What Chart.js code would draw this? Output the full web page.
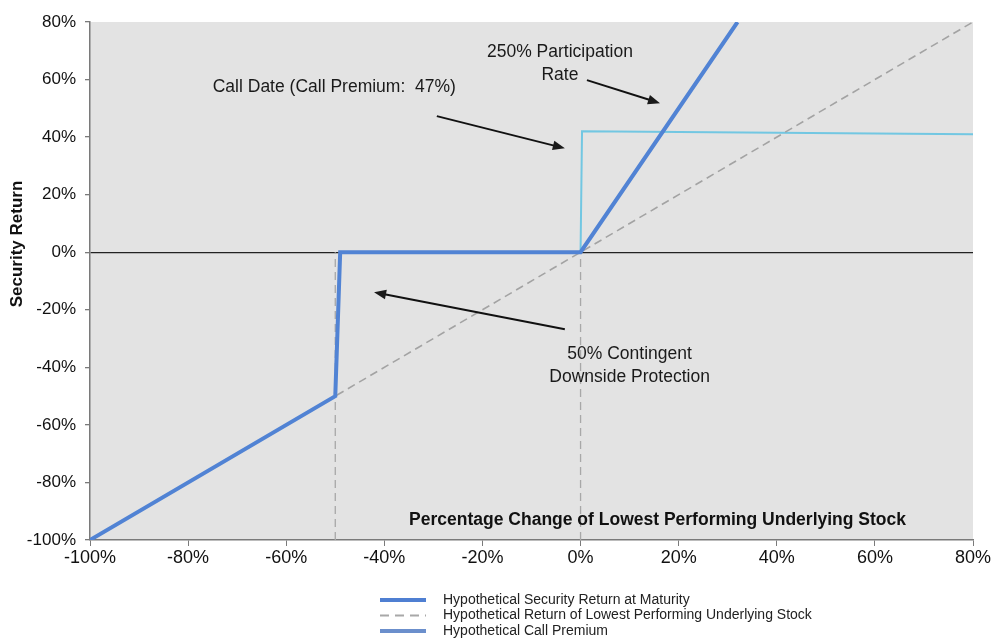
<!DOCTYPE html>
<html>
<head>
    <title>Security Return vs Lowest Performing Underlying Stock</title>
    <script src="https://cdn.jsdelivr.net/npm/chart.js"></script>
    <style>
        body { margin: 0; background: #fff; font-family: "Liberation Sans", Arial, sans-serif; }
        .chart-container { width: 993px; height: 639px; }
    </style>
</head>
<body>
    <div class="chart-container">
        <canvas id="myChart"></canvas>
    </div>

    <script>
        // values in % (x = change of lowest performing stock, y = security return)
        const securityX = [-100, -50, -49, 0, 32];
        const securityY = [-100, -50, 0, 0, 80];
        const stockX = [-100, 80];
        const stockY = [-100, 80];
        const premiumX = [0, 0.3, 80];
        const premiumY = [0, 42, 41];
        const guideX = [-50, 0];        // vertical dashed markers, from -100% up to 0%
        const seriesLabels = [
            'Hypothetical Security Return at Maturity',
            'Hypothetical Return of Lowest Performing Underlying Stock',
            'Hypothetical Call Premium'
        ];
        const xTicks = [-100, -80, -60, -40, -20, 0, 20, 40, 60, 80];
        const yTicks = [-100, -80, -60, -40, -20, 0, 20, 40, 60, 80];

        const toPoints = (xs, ys) => xs.map((x, i) => ({ x: x, y: ys[i] }));

        // text notes, placed in data units
        const notes = [
            { lines: ['250% Participation', 'Rate'], x: -4.2, y: 69.5, from: [1.3, 59.8], to: [16.2, 51.8] },
            { lines: ['Call Date (Call Premium:  47%)'], x: -50.2, y: 57.3, from: [-29.3, 47.3], to: [-3.2, 36.1] },
            { lines: ['50% Contingent', 'Downside Protection'], x: 10, y: -35.4, from: [-3.2, -26.8], to: [-42.1, -13.9] }
        ];

        const legendColors = ['#4f7fd2', '#a8a8a8', '#6b8fcc'];
        const FONT = '"Liberation Sans", Arial, sans-serif';

        const decorPlugin = {
            id: 'decor',
            beforeDraw(chart) {
                const a = chart.chartArea, ctx = chart.ctx;
                ctx.save();
                ctx.fillStyle = '#e3e3e3';
                ctx.fillRect(a.left, a.top, a.right - a.left, a.bottom - a.top);
                ctx.restore();
            },
            afterDatasetsDraw(chart) {
                const ctx = chart.ctx;
                const xs = chart.scales.x, ys = chart.scales.y;
                ctx.save();
                ctx.fillStyle = '#1a1a1a';
                ctx.strokeStyle = '#111';
                ctx.font = '17.5px ' + FONT;
                ctx.textAlign = 'center';
                ctx.textBaseline = 'middle';
                notes.forEach(n => {
                    const px = xs.getPixelForValue(n.x);
                    const py = ys.getPixelForValue(n.y);
                    n.lines.forEach((t, i) => ctx.fillText(t, px, py + i * 23));
                    const x1 = xs.getPixelForValue(n.from[0]), y1 = ys.getPixelForValue(n.from[1]);
                    const x2 = xs.getPixelForValue(n.to[0]), y2 = ys.getPixelForValue(n.to[1]);
                    const ang = Math.atan2(y2 - y1, x2 - x1);
                    ctx.lineWidth = 2;
                    ctx.beginPath();
                    ctx.moveTo(x1, y1);
                    ctx.lineTo(x2 - 8 * Math.cos(ang), y2 - 8 * Math.sin(ang));
                    ctx.stroke();
                    ctx.beginPath();
                    ctx.moveTo(x2, y2);
                    ctx.lineTo(x2 - 13 * Math.cos(ang - 0.38), y2 - 13 * Math.sin(ang - 0.38));
                    ctx.lineTo(x2 - 13 * Math.cos(ang + 0.38), y2 - 13 * Math.sin(ang + 0.38));
                    ctx.closePath();
                    ctx.fill();
                });

                // x axis title inside the plot
                ctx.font = 'bold 17.5px ' + FONT;
                ctx.fillStyle = '#111';
                ctx.fillText('Percentage Change of Lowest Performing Underlying Stock',
                    xs.getPixelForValue(15.7), ys.getPixelForValue(-93.1));

                // y axis title
                ctx.save();
                ctx.translate(17, 244);
                ctx.rotate(-Math.PI / 2);
                ctx.font = 'bold 17px ' + FONT;
                ctx.fillText('Security Return', 0, 0);
                ctx.restore();

                // legend
                ctx.font = '14px ' + FONT;
                ctx.textAlign = 'left';
                seriesLabels.forEach((label, i) => {
                    const y = 600 + i * 15.5;
                    ctx.strokeStyle = legendColors[i];
                    ctx.lineWidth = i === 1 ? 2 : 4;
                    ctx.setLineDash(i === 1 ? [9, 6] : []);
                    ctx.beginPath();
                    ctx.moveTo(380, y);
                    ctx.lineTo(426, y);
                    ctx.stroke();
                    ctx.setLineDash([]);
                    ctx.fillStyle = '#222';
                    ctx.fillText(label, 443, y);
                });
                ctx.restore();
            }
        };

        window.addEventListener('load', function() {
            const ctx = document.getElementById('myChart');
            new Chart(ctx, {
                type: 'scatter',
                data: {
                    datasets: [
                        {
                            label: seriesLabels[0],
                            data: toPoints(securityX, securityY),
                            showLine: true,
                            borderColor: '#5183d4',
                            borderWidth: 4,
                            pointRadius: 0
                        },
                        {
                            label: seriesLabels[1],
                            data: toPoints(stockX, stockY),
                            showLine: true,
                            borderColor: '#a3a3a3',
                            borderWidth: 1.6,
                            borderDash: [8, 5],
                            pointRadius: 0
                        },
                        {
                            label: seriesLabels[2],
                            data: toPoints(premiumX, premiumY),
                            showLine: true,
                            borderColor: '#72c7e2',
                            borderWidth: 2,
                            pointRadius: 0
                        },
                        ...guideX.map(gx => ({
                            label: 'guide',
                            data: [{ x: gx, y: -100 }, { x: gx, y: 0 }],
                            showLine: true,
                            borderColor: '#a8a8a8',
                            borderWidth: 1.3,
                            borderDash: [8, 5],
                            pointRadius: 0
                        }))
                    ]
                },
                options: {
                    responsive: true,
                    maintainAspectRatio: false,
                    animation: false,
                    layout: {
                        padding: { left: 0, right: 20, top: 22, bottom: 0 }
                    },
                    scales: {
                        x: {
                            type: 'linear',
                            min: -100,
                            max: 80,
                            afterBuildTicks: s => { s.ticks = xTicks.map(v => ({ value: v })); },
                            afterFit: s => { s.height = 99; },
                            grid: {
                                drawOnChartArea: false,
                                drawTicks: true,
                                tickLength: 6,
                                tickColor: '#7a7a7a'
                            },
                            border: { color: '#7a7a7a', width: 1.5 },
                            ticks: {
                                color: '#111',
                                padding: 1,
                                maxRotation: 0,
                                font: { size: 18, family: FONT },
                                callback: v => v + '%'
                            }
                        },
                        y: {
                            type: 'linear',
                            min: -100,
                            max: 80,
                            afterBuildTicks: s => { s.ticks = yTicks.map(v => ({ value: v })); },
                            afterFit: s => { s.width = 90; },
                            grid: {
                                drawOnChartArea: true,
                                drawTicks: true,
                                tickLength: 5,
                                tickColor: '#7a7a7a',
                                color: c => (c.tick && c.tick.value === 0) ? '#222' : 'rgba(0,0,0,0)',
                                lineWidth: 1.3
                            },
                            border: { color: '#7a7a7a', width: 1.5 },
                            ticks: {
                                color: '#111',
                                padding: 9,
                                font: { size: 17, family: FONT },
                                callback: v => v + '%'
                            }
                        }
                    },
                    plugins: {
                        legend: { display: false },
                        tooltip: { enabled: false }
                    }
                },
                plugins: [decorPlugin]
            });
        });
    </script>
</body>
</html>
